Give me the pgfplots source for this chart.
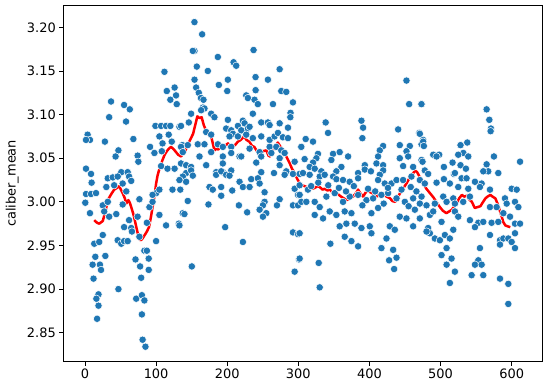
\documentclass[border=0pt]{standalone}
\usepackage{fontspec}
\setmainfont{DejaVu Sans}
\usepackage{pgfplots}
\usepackage{pgfplotstable}
\pgfplotsset{compat=1.18}
\definecolor{tabblue}{HTML}{1F77B4}
\pgfplotstableread{
x y
111.7 3.149
115 3.127
126 3.131
128 3.122
120 3.117
129 3.112
36.6 3.115
55 3.111
63 3.106
34 3.097
57.7 3.092
99 3.087
107 3.087
114 3.087
120 3.087
3.7 3.077
7 3.071
1.4 3.071
28 3.069
68 3.072
104.6 3.075
117.7 3.077
109 3.067
122 3.069
137 3.065
47 3.059
43 3.052
91.5 3.063
97.6 3.056
108 3.058
74 3.053
75 3.046
1.4 3.038
8.5 3.032
51 3.034
60 3.034
107 3.041
116 3.038
126 3.038
9.3 3.022
32 3.027
39 3.028
46 3.029
62 3.029
65 3.024
41 3.019
30 3.017
53 3.021
1.4 3.009
8.5 3.009
15.5 3.010
0.4 2.999
7 2.987
25 2.996
32 3.000
27 2.989
34 2.983
44 2.986
53 2.997
58 3.012
76.5 3.003
62 2.979
55 2.971
65 2.970
66 2.966
74 2.983
87 2.976
90.6 2.994
95 3.000
104.6 2.985
100 3.010
95 3.008
104.6 3.014
114 2.973
132 2.975
137.5 2.987
123 3.014
134 3.014
13 2.952
20 2.954
25 2.962
46 2.956
51 2.952
55 2.955
60 2.955
100 2.955
76.5 2.960
14.5 2.937
28.6 2.938
10.7 2.928
21 2.928
22.5 2.922
83.5 2.944
87 2.944
71 2.934
89.6 2.935
77.5 2.926
89.6 2.922
79 2.913
12 2.912
47 2.900
19 2.894
16 2.889
19 2.881
72 2.889
80 2.893
83.5 2.887
17 2.866
80 2.871
81 2.842
85 2.834
153.9 3.206
164.7 3.192
153.9 3.173
151.6 3.173
237 3.174
186.8 3.166
208.9 3.160
212.6 3.156
157.2 3.155
172.7 3.150
273.7 3.152
239.8 3.143
257.2 3.140
154 3.140
200.9 3.140
188.2 3.134
200 3.127
156.3 3.131
160 3.125
239.9 3.128
276 3.127
283 3.126
226.7 3.122
229 3.119
163 3.119
166.6 3.117
238.4 3.117
243 3.112
292.4 3.114
264.3 3.112
165.7 3.108
168 3.107
163.3 3.105
289 3.102
288.7 3.097
149.2 3.101
146 3.091
177.4 3.101
182 3.097
236 3.101
200.9 3.094
222 3.093
224.4 3.090
229 3.084
231.4 3.086
247.8 3.091
257.2 3.091
259.6 3.088
273.7 3.090
285.4 3.085
198.5 3.084
205.6 3.082
215 3.087
219.7 3.082
132.8 3.086
135 3.087
170.4 3.080
177.4 3.077
208 3.078
203.2 3.075
215 3.075
226.7 3.077
236 3.073
247.8 3.075
259.6 3.071
266.6 3.075
271.3 3.079
278.3 3.074
285.4 3.073
304.2 3.063
144.5 3.065
158.6 3.066
168 3.066
186.8 3.066
193.8 3.063
205.6 3.063
231.4 3.061
259.6 3.063
269 3.063
276 3.059
135 3.063
137.5 3.057
177.4 3.057
205.6 3.056
245.5 3.057
262 3.056
280.7 3.056
161 3.052
193.8 3.052
217.3 3.052
247.8 3.052
273.7 3.050
135 3.044
142.2 3.042
149.2 3.040
170.4 3.042
193.8 3.044
219.7 3.052
240.8 3.045
273.7 3.042
294.8 3.046
142.2 3.033
149.2 3.036
184.4 3.034
193.8 3.034
205.6 3.036
247.8 3.034
283 3.035
151.6 3.030
184.4 3.031
191.5 3.035
198.5 3.031
203.2 3.030
137.5 3.029
142.2 3.023
132.8 3.025
265.7 3.033
280.7 3.031
292.4 3.032
301.8 3.032
217.3 3.023
233.7 3.026
243.1 3.027
245.5 3.021
175 3.017
179.7 3.014
191.5 3.017
191.5 3.007
207 3.013
222 3.017
231.4 3.017
252.5 3.011
294.8 3.015
301.8 3.019
299.5 3.008
144.5 3.001
173.6 2.997
216.4 2.996
252.5 3.000
250.2 2.996
245.5 2.991
254.9 2.987
250.2 2.983
273.7 3.003
269.9 2.996
292.4 2.996
299.5 2.996
304.2 3.000
228 2.988
139.8 2.986
132.8 2.973
197.1 2.971
222 2.954
292.4 2.965
299.5 2.963
300.9 2.934
294.8 2.920
150.2 2.926
452 3.139
455.8 3.112
473.2 3.112
338.4 3.091
341.7 3.079
388.7 3.093
391 3.085
390 3.073
440.3 3.083
470 3.079
475.5 3.071
310.3 3.072
304.1 3.063
320.6 3.069
442.6 3.065
456.7 3.064
452 3.058
473.2 3.066
419.2 3.064
414.5 3.059
412.1 3.052
327.6 3.055
325.3 3.050
348.8 3.055
358.1 3.057
369.9 3.052
308.8 3.049
320.6 3.045
315.9 3.040
323 3.038
332.3 3.035
346.4 3.048
360.5 3.040
353.4 3.035
393.4 3.042
409.8 3.044
419.2 3.042
419.2 3.036
442.6 3.050
447.3 3.041
454.4 3.052
461.4 3.040
473.2 3.048
384 3.033
393.4 3.037
306.5 3.033
315.9 3.031
330 3.029
337 3.031
348.8 3.029
353.5 3.026
362.8 3.025
372.2 3.023
384 3.027
402 3.035
414.5 3.031
412.1 3.025
421.5 3.021
430.9 3.021
438 3.025
447.3 3.025
459 3.029
470.8 3.025
301.8 3.008
311.2 3.000
323 3.000
313.5 3.014
339.4 3.006
351.1 3.010
362.8 3.000
372.2 3.006
384 3.008
395.7 3.002
405.1 3.004
416.8 3.008
426.2 3.010
438 3.004
449.7 3.000
461.4 3.004
473.2 3.006
318 3.018
328 3.022
342 3.019
357 3.016
367 3.012
378 3.018
398 3.015
408 3.012
426 3.016
445 3.014
458 3.017
466 3.012
323 2.985
334.7 2.981
344.1 2.989
353.4 2.985
365.2 2.989
374.6 2.987
402.7 2.987
412.1 2.993
442.6 2.983
452 2.981
463.8 2.991
470.8 2.981
330 2.994
390 2.996
420 2.998
455 2.995
358.1 2.972
367.5 2.975
379.3 2.975
388.7 2.970
400.4 2.972
402.7 2.964
428.6 2.972
435.6 2.968
461.4 2.972
365.2 2.960
374.6 2.955
384 2.949
423.9 2.958
416.8 2.947
433.3 2.945
345 2.952
427.6 2.933
438 2.936
434.7 2.923
301.8 2.964
301.8 2.935
328.6 2.930
330 2.902
473.1 3.112
564.7 3.106
568.5 3.094
570.8 3.084
570.3 3.081
470.8 3.078
475.5 3.069
476.4 3.064
528 3.065
537.5 3.068
532 3.056
538.9 3.052
524.8 3.054
489.6 3.054
498 3.054
494.3 3.052
575 3.052
611.7 3.046
504.6 3.040
516.8 3.045
528 3.042
535.6 3.038
474.6 3.046
477.8 3.036
482.5 3.032
564.7 3.043
567 3.035
581.1 3.033
560 3.035
518.7 3.032
494.3 3.022
504.6 3.026
513 3.021
520.1 3.033
529.5 3.027
536.5 3.027
548.3 3.023
557.7 3.021
477.8 3.021
524.8 3.017
538.9 3.015
555.3 3.017
569.4 3.014
590.5 3.004
599.9 3.015
607 3.014
470.8 2.998
480.2 2.996
491.9 2.998
503.7 3.006
508.4 3.000
517.8 3.004
520.1 2.998
531.8 3.000
541.2 3.006
569.4 2.994
578.8 2.994
592.9 2.998
604.6 3.000
609.3 2.994
484.9 2.985
489.6 2.989
501.3 2.977
520.1 2.989
524.8 2.983
541.2 2.979
553 2.976
560 2.977
571.7 2.976
581.1 2.977
588.2 2.987
597.6 2.983
604.6 2.975
611.7 2.975
482.5 2.970
484.9 2.964
480.2 2.966
491.9 2.958
499 2.956
506 2.962
513 2.958
517.8 2.968
548.3 2.971
569.4 2.962
583.5 2.956
588.2 2.958
595.2 2.958
599.9 2.954
604.6 2.947
583.5 2.951
604.6 2.964
508.4 2.947
501.3 2.939
515.4 2.935
508.4 2.928
520.1 2.920
555.3 2.947
553 2.933
548.3 2.928
557.7 2.928
543.6 2.916
560 2.916
513 2.907
583.5 2.912
595.2 2.906
595.2 2.883
}\scatterdata
\pgfplotstableread{
x y
13 2.979
17 2.976
20 2.975
25 2.978
29 2.990
32 3.002
37 3.009
41 3.014
45 3.016
48 3.018
51 3.013
53 3.010
56 3.004
58 2.998
61 3.002
63 2.999
65 2.994
68 2.986
70 2.979
73 2.968
76 2.958
78 2.956
80 2.957
84 2.962
87 2.966
90 2.971
93 2.984
95 2.994
98 3.008
100 3.021
102 3.030
104 3.036
107 3.043
109 3.048
112 3.054
115 3.058
118 3.061
121 3.063
125 3.060
128 3.057
131 3.054
135 3.052
138 3.055
140 3.057
143 3.062
146 3.068
149 3.073
152 3.078
155 3.088
158 3.098
161 3.096
164 3.097
167 3.088
170 3.082
174 3.077
178 3.073
180 3.066
182 3.059
185 3.061
187 3.060
191 3.062
194 3.063
198 3.065
201 3.067
205 3.062
208 3.063
212 3.066
215 3.069
219 3.071
224 3.075
227 3.071
231 3.069
235 3.064
238 3.063
242 3.058
246 3.056
250 3.058
255 3.059
258 3.053
260 3.052
263 3.058
267 3.063
271 3.068
275 3.063
279 3.059
283 3.052
288 3.044
291 3.038
295 3.033
298 3.027
302 3.021
305 3.019
309 3.018
313 3.016
316 3.017
320 3.015
323 3.016
327 3.018
330 3.017
334 3.014
337 3.015
341 3.013
344 3.014
348 3.011
353 3.010
357 3.008
360 3.006
364 3.004
368 3.002
372 3.004
377 3.006
381 3.010
384 3.014
387 3.010
391 3.006
394 3.010
398 3.014
401 3.011
404 3.010
407 3.008
410 3.006
414 3.009
419 3.010
424 3.006
429 3.004
432 3.001
436 3.000
439 3.004
443 3.010
447 3.015
452 3.021
456 3.027
461 3.032
464 3.036
467 3.034
471 3.028
474 3.022
477 3.019
480 3.015
485 3.010
490 3.005
494 3.000
499 2.994
503 2.990
508 2.987
512 2.989
516 2.991
519 2.995
523 2.999
526 3.004
530 3.008
533 3.006
537 3.007
540 3.003
544 3.000
548 2.993
552 2.994
556 2.995
559 2.999
563 3.004
566 3.006
570 3.008
573 3.006
577 3.004
580 2.998
582 2.993
586 2.983
588 2.977
591 2.973
594 2.972
598 2.971
}\rollingdata
\begin{document}
\begin{tikzpicture}[font=\fontsize{13}{15}\selectfont]
\useasboundingbox (0,0) rectangle (550bp,388bp);
\begin{axis}[
  at={(63.3bp,26.3bp)}, anchor=south west,
  scale only axis, width=479bp, height=356.7bp,
  xmin=-30.5, xmax=643, ymin=2.8168, ymax=3.2256,
  xtick={0,100,...,600},
  ytick={2.85,2.90,2.95,3.00,3.05,3.10,3.15,3.20},
  yticklabel style={/pgf/number format/.cd,fixed,fixed zerofill,precision=2},
  /pgf/number format/assume math mode=true,
  tick align=outside, tick pos=left,
  major tick length=4bp,
  every tick/.style={black, line width=0.8pt},
  axis line style={black, line width=0.8pt},
  ylabel={caliber\_mean},
  ylabel style={at={(axis description cs:0,0.5)}, anchor=center, yshift=51bp},
  clip=true,
]
\addplot[only marks, mark=*, mark size=3.7pt, mark options={fill=tabblue, draw=white, line width=0.5pt}] table[x=x,y=y] {\scatterdata};
\addplot[red, line width=2.5pt, line join=round] table[x=x,y=y] {\rollingdata};
\end{axis}
\end{tikzpicture}
\end{document}
